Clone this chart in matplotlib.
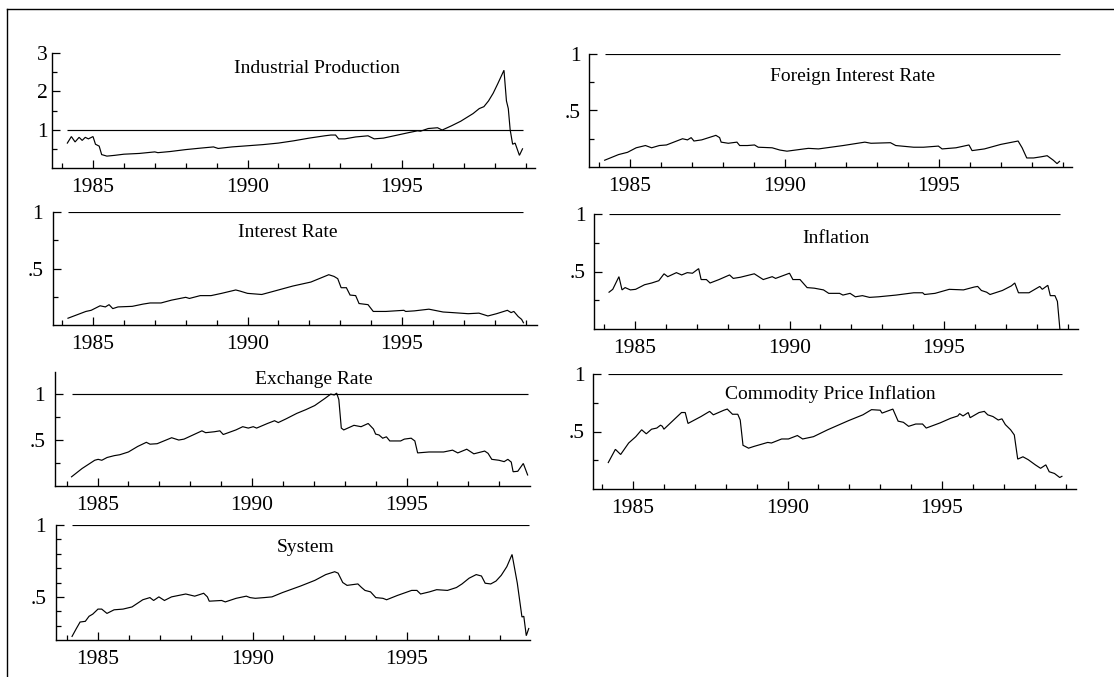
import matplotlib
matplotlib.use("Agg")
import matplotlib.pyplot as plt
from matplotlib.lines import Line2D
from matplotlib.ticker import FixedLocator, FuncFormatter

# ---------------- data (year, value) ----------------
ip_t = [1984.17, 1984.30, 1984.42, 1984.55, 1984.65, 1984.75, 1984.85, 1985.00, 1985.08, 1985.20,
        1985.28, 1985.45, 1985.70, 1986.00, 1986.50, 1987.00, 1987.10, 1987.50, 1988.00, 1988.50,
        1988.90, 1989.05, 1989.50, 1990.00, 1990.50, 1991.00, 1991.50, 1992.00, 1992.50, 1992.70,
        1992.85, 1992.95, 1993.15, 1993.50, 1993.90, 1994.10, 1994.40, 1994.80, 1995.20, 1995.50,
        1995.60, 1995.85, 1996.15, 1996.30, 1996.60, 1996.90, 1997.10, 1997.30, 1997.50, 1997.65,
        1997.80, 1997.95, 1998.10, 1998.30, 1998.38, 1998.44, 1998.50, 1998.58, 1998.66, 1998.80,
        1998.90]
ip_v = [0.65, 0.82, 0.68, 0.80, 0.72, 0.80, 0.76, 0.82, 0.62, 0.57,
        0.35, 0.31, 0.33, 0.36, 0.38, 0.42, 0.40, 0.43, 0.48, 0.52,
        0.55, 0.51, 0.55, 0.58, 0.61, 0.65, 0.71, 0.78, 0.84, 0.86,
        0.86, 0.76, 0.76, 0.81, 0.84, 0.76, 0.78, 0.85, 0.92, 0.97,
        0.96, 1.03, 1.05, 0.99, 1.10, 1.22, 1.32, 1.42, 1.55, 1.60,
        1.75, 1.95, 2.20, 2.55, 1.75, 1.55, 1.00, 0.62, 0.65, 0.33,
        0.50]

fir_t = [1984.18, 1984.63, 1984.92, 1985.20, 1985.50, 1985.70, 1985.95, 1986.18, 1986.70, 1986.86,
         1986.98, 1987.07, 1987.32, 1987.78, 1987.90, 1987.95, 1988.18, 1988.46, 1988.55, 1988.80,
         1989.03, 1989.15, 1989.60, 1989.85, 1990.08, 1990.77, 1991.10, 1991.90, 1992.60, 1992.80,
         1993.43, 1993.60, 1994.18, 1994.50, 1994.98, 1995.10, 1995.55, 1995.97, 1996.07, 1996.47,
         1997.00, 1997.56, 1997.69, 1997.84, 1998.06, 1998.30, 1998.50, 1998.70, 1998.82, 1998.90]
fir_v = [0.06, 0.11, 0.13, 0.17, 0.19, 0.17, 0.19, 0.195, 0.25, 0.24,
         0.26, 0.23, 0.24, 0.28, 0.26, 0.22, 0.21, 0.22, 0.19, 0.19,
         0.195, 0.175, 0.17, 0.15, 0.14, 0.165, 0.16, 0.19, 0.22, 0.21,
         0.215, 0.19, 0.175, 0.175, 0.185, 0.16, 0.17, 0.195, 0.145, 0.16,
         0.20, 0.23, 0.17, 0.08, 0.08, 0.09, 0.10, 0.06, 0.03, 0.05]

ir_t = [1984.19, 1984.48, 1984.77, 1984.94, 1985.23, 1985.40, 1985.52, 1985.64, 1985.81, 1986.27,
        1986.62, 1986.85, 1987.20, 1987.54, 1988.00, 1988.12, 1988.47, 1988.82, 1989.16, 1989.62,
        1989.76, 1990.00, 1990.46, 1990.80, 1991.47, 1992.05, 1992.63, 1992.80, 1992.92, 1993.03,
        1993.20, 1993.32, 1993.50, 1993.61, 1993.90, 1994.07, 1994.48, 1995.06, 1995.12, 1995.40,
        1995.87, 1996.33, 1996.62, 1997.14, 1997.49, 1997.78, 1998.06, 1998.41, 1998.53, 1998.62,
        1998.76, 1998.87, 1998.93]
ir_v = [0.06, 0.09, 0.12, 0.13, 0.17, 0.16, 0.18, 0.145, 0.16, 0.165,
        0.185, 0.195, 0.195, 0.22, 0.245, 0.235, 0.26, 0.26, 0.28, 0.31,
        0.30, 0.28, 0.27, 0.295, 0.345, 0.38, 0.445, 0.43, 0.41, 0.33,
        0.33, 0.265, 0.26, 0.19, 0.18, 0.12, 0.12, 0.13, 0.12, 0.125,
        0.14, 0.115, 0.11, 0.10, 0.105, 0.08, 0.10, 0.13, 0.11, 0.12,
        0.075, 0.05, 0.02]

inf_t = [1984.16, 1984.28, 1984.48, 1984.58, 1984.68, 1984.85, 1985.02, 1985.31, 1985.54, 1985.77,
         1985.94, 1986.06, 1986.34, 1986.51, 1986.69, 1986.86, 1987.06, 1987.14, 1987.31, 1987.43,
         1987.72, 1988.06, 1988.18, 1988.41, 1988.86, 1989.15, 1989.44, 1989.55, 1990.00, 1990.11,
         1990.34, 1990.57, 1990.80, 1991.10, 1991.27, 1991.62, 1991.73, 1991.96, 1992.13, 1992.36,
         1992.59, 1992.88, 1993.45, 1994.02, 1994.31, 1994.37, 1994.71, 1995.17, 1995.63, 1995.98,
         1996.09, 1996.21, 1996.38, 1996.49, 1996.89, 1997.18, 1997.29, 1997.41, 1997.75, 1998.10,
         1998.18, 1998.36, 1998.44, 1998.59, 1998.67, 1998.75]
inf_v = [0.32, 0.345, 0.455, 0.34, 0.36, 0.34, 0.345, 0.385, 0.40, 0.42,
         0.48, 0.455, 0.49, 0.47, 0.49, 0.485, 0.525, 0.43, 0.43, 0.40,
         0.43, 0.47, 0.44, 0.45, 0.48, 0.43, 0.455, 0.44, 0.485, 0.43,
         0.43, 0.36, 0.355, 0.34, 0.31, 0.31, 0.295, 0.31, 0.28, 0.29,
         0.275, 0.28, 0.295, 0.315, 0.315, 0.30, 0.31, 0.345, 0.34, 0.365,
         0.37, 0.335, 0.32, 0.30, 0.335, 0.375, 0.40, 0.315, 0.315, 0.37,
         0.345, 0.38, 0.29, 0.29, 0.24, 0.0]

ex_t = [1984.16, 1984.50, 1984.91, 1985.02, 1985.14, 1985.31, 1985.54, 1985.72, 1986.00, 1986.30,
        1986.58, 1986.70, 1986.93, 1987.22, 1987.40, 1987.63, 1987.80, 1988.09, 1988.38, 1988.50,
        1988.78, 1988.96, 1989.07, 1989.48, 1989.70, 1989.88, 1990.04, 1990.15, 1990.50, 1990.73,
        1990.85, 1991.10, 1991.45, 1991.74, 1992.03, 1992.37, 1992.55, 1992.66, 1992.74, 1992.81,
        1992.89, 1992.97, 1993.30, 1993.53, 1993.76, 1993.93, 1994.00, 1994.11, 1994.23, 1994.35,
        1994.46, 1994.81, 1994.93, 1995.15, 1995.27, 1995.36, 1995.73, 1996.20, 1996.49, 1996.66,
        1996.95, 1997.18, 1997.53, 1997.64, 1997.76, 1997.99, 1998.16, 1998.28, 1998.39, 1998.45,
        1998.60, 1998.78, 1998.92]
ex_v = [0.10, 0.19, 0.28, 0.29, 0.28, 0.31, 0.33, 0.34, 0.37, 0.43,
        0.475, 0.455, 0.46, 0.50, 0.525, 0.50, 0.51, 0.555, 0.60, 0.58,
        0.59, 0.60, 0.56, 0.61, 0.645, 0.63, 0.645, 0.63, 0.68, 0.71,
        0.69, 0.73, 0.79, 0.83, 0.875, 0.955, 1.0, 0.99, 1.01, 0.94,
        0.63, 0.61, 0.66, 0.645, 0.68, 0.62, 0.565, 0.555, 0.52, 0.535,
        0.49, 0.49, 0.51, 0.52, 0.49, 0.36, 0.37, 0.37, 0.39, 0.36,
        0.40, 0.35, 0.38, 0.355, 0.29, 0.28, 0.265, 0.29, 0.26, 0.155,
        0.16, 0.245, 0.12]

cp_t = [1984.20, 1984.43, 1984.60, 1984.86, 1985.09, 1985.28, 1985.43, 1985.60, 1985.77, 1985.89,
        1985.95, 1986.00, 1986.57, 1986.69, 1986.78, 1987.20, 1987.48, 1987.60, 1987.94, 1988.05,
        1988.22, 1988.39, 1988.47, 1988.56, 1988.74, 1988.91, 1989.36, 1989.48, 1989.81, 1990.03,
        1990.32, 1990.49, 1990.84, 1991.30, 1991.98, 1992.44, 1992.72, 1993.00, 1993.06, 1993.41,
        1993.58, 1993.75, 1993.92, 1994.15, 1994.37, 1994.49, 1994.94, 1995.28, 1995.51, 1995.57,
        1995.68, 1995.85, 1995.91, 1996.20, 1996.37, 1996.48, 1996.65, 1996.82, 1996.94, 1997.05,
        1997.22, 1997.34, 1997.45, 1997.62, 1997.79, 1998.02, 1998.19, 1998.36, 1998.47, 1998.64,
        1998.81, 1998.88]
cp_v = [0.23, 0.345, 0.30, 0.40, 0.455, 0.515, 0.48, 0.52, 0.53, 0.555,
        0.545, 0.52, 0.665, 0.665, 0.57, 0.63, 0.675, 0.645, 0.685, 0.695,
        0.65, 0.65, 0.60, 0.38, 0.355, 0.37, 0.405, 0.40, 0.435, 0.435,
        0.465, 0.435, 0.455, 0.515, 0.595, 0.645, 0.69, 0.685, 0.66, 0.695,
        0.59, 0.58, 0.545, 0.565, 0.565, 0.53, 0.575, 0.615, 0.635, 0.655,
        0.635, 0.665, 0.62, 0.665, 0.675, 0.645, 0.63, 0.60, 0.61, 0.56,
        0.515, 0.47, 0.26, 0.28, 0.255, 0.21, 0.18, 0.21, 0.15, 0.135,
        0.10, 0.11]

sy_t = [1984.16, 1984.30, 1984.42, 1984.59, 1984.71, 1984.83, 1985.00, 1985.12, 1985.29, 1985.52,
        1985.81, 1986.10, 1986.45, 1986.68, 1986.80, 1986.97, 1987.15, 1987.38, 1987.84, 1988.13,
        1988.42, 1988.54, 1988.60, 1989.00, 1989.12, 1989.47, 1989.80, 1989.92, 1990.09, 1990.38,
        1990.63, 1990.97, 1991.55, 1992.02, 1992.37, 1992.66, 1992.77, 1992.92, 1993.06, 1993.41,
        1993.53, 1993.64, 1993.82, 1993.99, 1994.22, 1994.34, 1994.69, 1995.15, 1995.32, 1995.44,
        1995.73, 1995.96, 1996.31, 1996.60, 1996.78, 1997.01, 1997.24, 1997.41, 1997.53, 1997.71,
        1997.88, 1998.05, 1998.23, 1998.40, 1998.57, 1998.72, 1998.78, 1998.86, 1998.94]
sy_v = [0.225, 0.28, 0.325, 0.33, 0.365, 0.38, 0.415, 0.415, 0.385, 0.41,
        0.415, 0.43, 0.48, 0.495, 0.475, 0.50, 0.475, 0.50, 0.52, 0.505,
        0.525, 0.50, 0.47, 0.475, 0.465, 0.49, 0.505, 0.495, 0.49, 0.495,
        0.50, 0.53, 0.575, 0.615, 0.655, 0.675, 0.665, 0.60, 0.58, 0.59,
        0.565, 0.545, 0.535, 0.495, 0.49, 0.48, 0.51, 0.545, 0.545, 0.52,
        0.535, 0.55, 0.545, 0.565, 0.59, 0.63, 0.655, 0.645, 0.595, 0.59,
        0.61, 0.65, 0.71, 0.795, 0.595, 0.36, 0.365, 0.23, 0.28]

titles = ["Industrial Production", "Foreign Interest Rate", "Interest Rate", "Inflation",
          "Exchange Rate", "Commodity Price Inflation", "System"]
year_major = [1985, 1990, 1995]
year_minor = list(range(1984, 2000))

# ---------------- layout (pixel boxes) ----------------
W, H = 1114, 677
plt.rcParams['font.family'] = ['Liberation Serif', 'DejaVu Serif']
fig = plt.figure(figsize=(W / 100, H / 100), dpi=100)
fig.patch.set_facecolor('white')

# frame (only top and left edges visible)
fig.add_artist(Line2D([7 / W, 1.0], [1 - 9 / H, 1 - 9 / H], color='black', lw=1.0, transform=fig.transFigure))
fig.add_artist(Line2D([7 / W, 7 / W], [1 - 9 / H, 0.0], color='black', lw=1.0, transform=fig.transFigure))

PXY = 30.9  # pixels per year
specs = [
    (ip_t, ip_v, (52, 535, 53, 168), 93, (0, 3), [1, 2, 3], [0.5, 1.5, 2.5], (317, 73), 3),
    (fir_t, fir_v, (589, 1072, 54, 167), 630, (0, 1), [0.5, 1], [0.25, 0.75], (853, 81), 6),
    (ir_t, ir_v, (53, 537, 212, 325), 93, (0, 1), [0.5, 1], [0.25, 0.75], (288, 237), 7),
    (inf_t, inf_v, (594, 1078, 214, 329), 635, (0, 1), [0.5, 1], [0.25, 0.75], (836, 243), 6),
    (ex_t, ex_v, (55, 530, 372, 486), 97.5, (0, 1.24), [0.5, 1], [0.25, 0.75], (314, 384), 7),
    (cp_t, cp_v, (593, 1076, 374, 489), 633, (0, 1), [0.5, 1], [0.25, 0.75], (830, 399), 6),
    (sy_t, sy_v, (56, 530, 525, 640), 98, (0.2, 1), [0.5, 1], [0.3, 0.4, 0.6, 0.7, 0.8, 0.9], (306, 552), 7),
]


def yfmt(v, pos):
    if abs(v - round(v)) < 1e-9:
        return str(int(round(v)))
    return ("%g" % v).lstrip('0')


for (t, v, (l, r, tp, bt), x85, ylim, ymaj, ymin, (tx, ty), ypad), title in zip(specs, titles):
    ax = fig.add_axes([l / W, 1 - bt / H, (r - l) / W, (bt - tp) / H])
    ax.set_xlim(1985 - (x85 - l) / PXY, 1985 + (r - x85) / PXY)
    ax.set_ylim(*ylim)
    ax.plot(t, v, color='black', lw=0.85, solid_joinstyle='miter')
    ax.hlines(1.0, t[0], t[-1], color='black', lw=0.85)
    for s in ('top', 'right'):
        ax.spines[s].set_visible(False)
    for s in ('left', 'bottom'):
        ax.spines[s].set_linewidth(1.0)
    ax.xaxis.set_major_locator(FixedLocator(year_major))
    ax.xaxis.set_minor_locator(FixedLocator(year_minor))
    ax.yaxis.set_major_locator(FixedLocator(ymaj))
    ax.yaxis.set_minor_locator(FixedLocator(ymin))
    ax.yaxis.set_major_formatter(FuncFormatter(yfmt))
    ax.tick_params(axis='x', which='major', direction='in', length=5.5, width=0.9,
                   labelsize=15.5, pad=7.5)
    ax.tick_params(axis='x', which='minor', direction='in', length=3.5, width=0.9)
    ax.tick_params(axis='y', which='major', direction='in', length=5.5, width=0.9,
                   labelsize=15.5, pad=ypad)
    ax.tick_params(axis='y', which='minor', direction='in', length=3.5, width=0.9)
    ax.set_facecolor('none')
    fig.text(tx / W, 1 - ty / H, title, ha='center', va='baseline', fontsize=14)

fig.savefig('out.png', dpi=100, facecolor='white')
